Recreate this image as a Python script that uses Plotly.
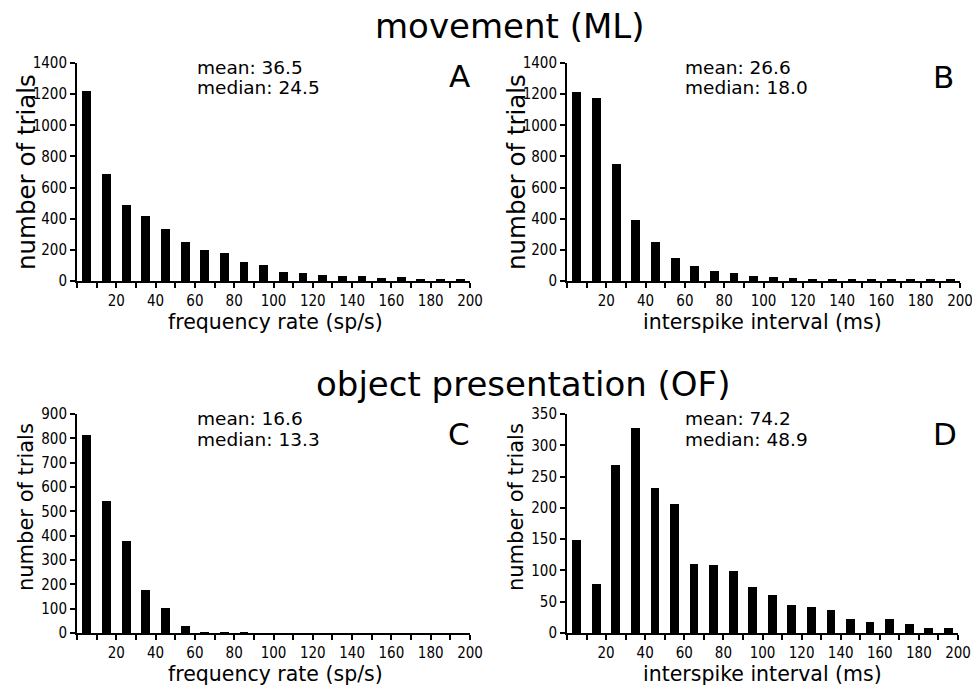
import plotly.graph_objects as go

# ---------------- data ----------------
bin_centers = [5, 15, 25, 35, 45, 55, 65, 75, 85, 95,
               105, 115, 125, 135, 145, 155, 165, 175, 185, 195]

counts_A = [1220, 688, 486, 415, 336, 253, 202, 177, 125, 104,
            60, 54, 40, 30, 34, 21, 28, 15, 14, 8]
counts_B = [1215, 1175, 750, 389, 253, 145, 98, 66, 49, 34,
            28, 21, 15, 15, 15, 8, 8, 15, 8, 8]
counts_C = [812, 542, 378, 178, 104, 29, 3, 3, 3, 0,
            0, 0, 0, 0, 0, 0, 0, 0, 0, 0]
counts_D = [148, 79, 268, 327, 231, 206, 111, 108, 99, 74,
            60, 45, 42, 37, 23, 18, 23, 14, 8, 8]

x_tickvals = [0, 10, 20, 30, 40, 50, 60, 70, 80, 90, 100,
              110, 120, 130, 140, 150, 160, 170, 180, 190, 200]
x_ticktext = ["", "", "20", "", "40", "", "60", "", "80", "", "100",
              "", "120", "", "140", "", "160", "", "180", "", "200"]

y_ticks_A = [0, 200, 400, 600, 800, 1000, 1200, 1400]
y_ticks_B = [0, 200, 400, 600, 800, 1000, 1200, 1400]
y_ticks_C = [0, 100, 200, 300, 400, 500, 600, 700, 800, 900]
y_ticks_D = [0, 50, 100, 150, 200, 250, 300, 350]

stats = {"A": ("36.5", "24.5"), "B": ("26.6", "18.0"),
         "C": ("16.6", "13.3"), "D": ("74.2", "48.9")}

title_top = "movement (ML)"
title_bottom = "object presentation (OF)"
xlab_rate = "frequency rate (sp/s)"
xlab_isi = "interspike interval (ms)"
ylab = "number of trials"

# ---------------- layout helpers ----------------
W, H = 972, 689
def px(x):
    return x / W
def py(y):
    return 1 - y / H

TEXT_FONT = "DejaVu Sans, Arial, sans-serif"
TICK_FONT = "Liberation Sans Narrow, DejaVu Sans Condensed, Arial Narrow, sans-serif"

panels = [
    # name, counts, yticks, x px domain, y px (top, bottom), xlabel,
    # ylabel size, ylabel centre y, letter centre (x, y)
    ("A", counts_A, y_ticks_A, (77, 470), (63, 281), xlab_rate, 24.5, 172, (459, 76)),
    ("B", counts_B, y_ticks_B, (567, 960), (63, 281), xlab_isi, 24.5, 172, (943, 77)),
    ("C", counts_C, y_ticks_C, (77, 470), (414, 633), xlab_rate, 21, 507, (459, 434)),
    ("D", counts_D, y_ticks_D, (567, 958), (414, 633), xlab_isi, 21, 507, (945, 434)),
]

fig = go.Figure()
layout = dict(
    width=W, height=H,
    margin=dict(l=0, r=0, t=0, b=0, pad=0, autoexpand=False),
    paper_bgcolor="white", plot_bgcolor="white",
    showlegend=False,
    bargap=0,
)
annotations = []

def note(x, y, text, size, xanchor="center", angle=0):
    annotations.append(dict(
        xref="paper", yref="paper", x=px(x), y=py(y),
        xanchor=xanchor, yanchor="middle", showarrow=False, textangle=angle,
        text=text, font=dict(family=TEXT_FONT, size=size, color="black"),
    ))

for i, (name, counts, yt, (x0, x1), (yt0, yb0), xlabel, ylsize, ylc, (lx, ly)) in enumerate(panels):
    k = "" if i == 0 else str(i + 1)
    fig.add_trace(go.Bar(
        x=bin_centers, y=counts, width=4.5,
        marker=dict(color="black", line=dict(width=0)),
        xaxis="x" + k, yaxis="y" + k,
    ))
    common = dict(
        automargin=False, ticklabeloverflow="allow",
        showline=True, linecolor="black", linewidth=2,
        ticks="outside", ticklen=5, tickwidth=1.5, tickcolor="black",
        tickfont=dict(family=TICK_FONT, size=15, color="black"),
        showgrid=False, zeroline=False, fixedrange=True,
    )
    layout["xaxis" + k] = dict(
        domain=[px(x0), px(x1)], range=[0, 200], anchor="y" + k,
        tickvals=x_tickvals, ticktext=x_ticktext, **common,
    )
    layout["yaxis" + k] = dict(
        domain=[py(yb0), py(yt0)], range=[0, yt[-1]], anchor="x" + k,
        tickvals=yt, **common,
    )
    mean, median = stats[name]
    sx = 195 if x0 < 300 else 683
    note(sx, yt0 + 4, f"mean: {mean}", 18.5, xanchor="left")
    note(sx, yt0 + 25, f"median: {median}", 18.5, xanchor="left")
    note(lx, ly, name, 31)
    xc = 275 if x0 < 300 else 762
    note(xc, yb0 + 41, xlabel, 20.5)
    ylx = 26 if x0 < 300 else 516
    note(ylx, ylc, ylab, ylsize, angle=-90)

note(510, 26, title_top, 34)
note(523, 384, title_bottom, 34)

layout["annotations"] = annotations
fig.update_layout(**layout)
fig.write_html(
    "out.html",
    config={"displayModeBar": False},
    post_script="document.body.style.margin='0px';document.body.style.overflow='hidden';",
)
